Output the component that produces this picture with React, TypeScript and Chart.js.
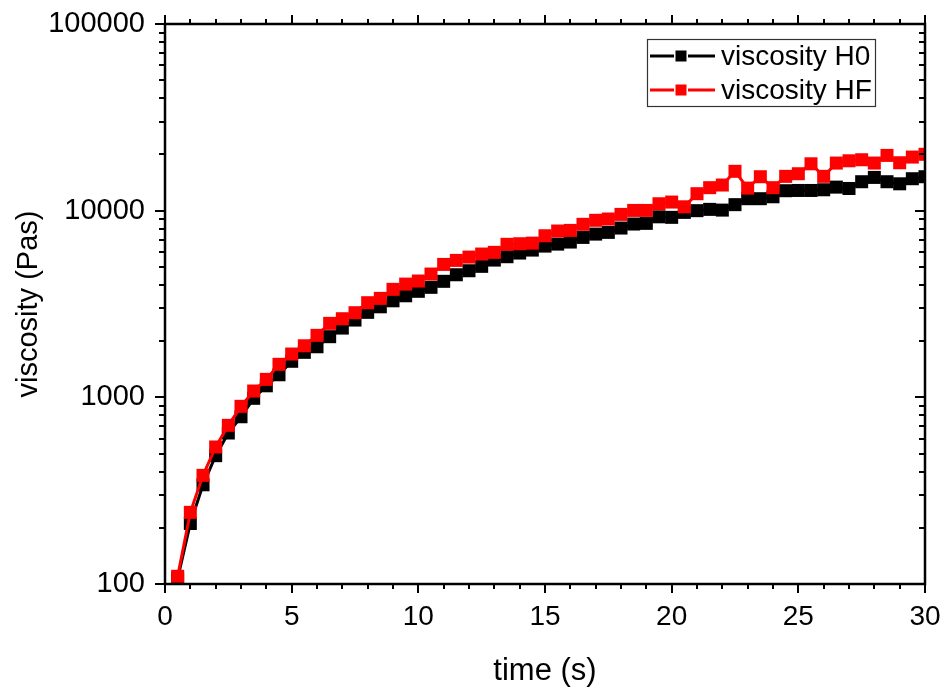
import React, { useEffect, useRef } from "react";
import { Chart, registerables } from "chart.js";

Chart.register(...registerables);

// time (s)
const times = [
  0.5, 1, 1.5, 2, 2.5, 3, 3.5, 4, 4.5, 5, 5.5, 6, 6.5, 7, 7.5, 8, 8.5, 9, 9.5, 10,
  10.5, 11, 11.5, 12, 12.5, 13, 13.5, 14, 14.5, 15, 15.5, 16, 16.5, 17, 17.5, 18, 18.5, 19, 19.5, 20,
  20.5, 21, 21.5, 22, 22.5, 23, 23.5, 24, 24.5, 25, 25.5, 26, 26.5, 27, 27.5, 28, 28.5, 29, 29.5, 30,
];

// viscosity H0 (Pas)
const viscosityH0 = [
  107, 211, 340, 487, 644, 787, 988, 1153, 1321, 1560, 1742, 1866, 2113, 2350, 2594, 2853, 3055, 3290, 3500, 3698,
  3884, 4183, 4536, 4766, 5032, 5437, 5666, 5928, 6150, 6460, 6620, 6790, 7190, 7490, 7650, 8070, 8480, 8550, 9270, 9210,
  9790, 10000, 10160, 10070, 10770, 11590, 11590, 11870, 12790, 12830, 12830, 12940, 13370, 13150, 14290, 15070, 14290, 13930, 14830, 15200,
];

// viscosity HF (Pas)
const viscosityHF = [
  110, 242, 382, 542, 708, 895, 1081, 1248, 1503, 1706, 1889, 2148, 2490, 2637, 2840, 3213, 3390, 3788, 4042, 4198,
  4576, 5153, 5415, 5640, 5857, 5980, 6603, 6650, 6700, 7339, 7780, 7840, 8450, 8880, 9020, 9550, 10030, 10030, 10890, 11120,
  10490, 12330, 13280, 13720, 16250, 13210, 15200, 13280, 15270, 15770, 17830, 15270, 17990, 18500, 18740, 17990, 19770, 18060, 19370, 20040,
];

const xTickValues = [0, 5, 10, 15, 20, 25, 30];
const yTickValues = [100, 1000, 10000, 100000];
const seriesLabels = ["viscosity H0", "viscosity HF"];
const seriesColors = ["#000000", "#ff0000"];

const FONT = "'Liberation Sans', Arial, Helvetica, sans-serif";

const originAxesPlugin = {
  id: "originAxes",
  afterDraw(chart: any) {
    const { ctx, chartArea: a, scales } = chart;
    const xs = scales.x;
    const ys = scales.y;
    const major = 9;
    const minor = 5;
    ctx.save();
    ctx.strokeStyle = "#000";
    ctx.lineCap = "butt";

    // x ticks (bottom outward, top outward)
    ctx.lineWidth = 2;
    ctx.beginPath();
    for (let v = xs.min; v <= xs.max + 1e-9; v += 1) {
      const px = Math.round(xs.getPixelForValue(v));
      const len = v % 5 === 0 ? major : minor;
      ctx.moveTo(px, a.bottom);
      ctx.lineTo(px, a.bottom + len);
      ctx.moveTo(px, a.top);
      ctx.lineTo(px, a.top - len);
    }
    // y ticks (left outward, right inward)
    for (let e = 2; e <= 5; e++) {
      for (let k = 1; k <= 9; k++) {
        const v = k * Math.pow(10, e);
        if (v > ys.max * 1.0001) break;
        const py = Math.round(ys.getPixelForValue(v));
        const len = k === 1 ? major + 1 : minor + 1;
        ctx.moveTo(a.left, py);
        ctx.lineTo(a.left - len, py);
        ctx.moveTo(a.right, py);
        ctx.lineTo(a.right - len, py);
      }
    }
    ctx.stroke();

    // frame
    ctx.lineWidth = 2.5;
    ctx.strokeRect(a.left, a.top, a.right - a.left, a.bottom - a.top);

    // legend
    const bw = 228;
    const bh = 67;
    const bx = a.right - 50 - bw;
    const by = a.top + 15;
    ctx.lineWidth = 1.2;
    ctx.strokeStyle = "#333";
    ctx.strokeRect(bx + 0.5, by + 0.5, bw, bh);
    ctx.font = `28px ${FONT}`;
    ctx.textBaseline = "middle";
    ctx.textAlign = "left";
    seriesLabels.forEach((label, i) => {
      const cy = by + 17 + i * 34;
      ctx.strokeStyle = seriesColors[i];
      ctx.lineWidth = 3;
      ctx.beginPath();
      ctx.moveTo(bx + 3, cy);
      ctx.lineTo(bx + 27, cy);
      ctx.moveTo(bx + 41, cy);
      ctx.lineTo(bx + 68, cy);
      ctx.stroke();
      ctx.fillStyle = seriesColors[i];
      ctx.fillRect(bx + 34 - 5.5, cy - 5.5, 11, 11);
      ctx.fillStyle = "#000";
      ctx.fillText(label, bx + 74, cy + 1);
    });
    ctx.restore();
  },
};

export default function App() {
  const canvasRef = useRef<HTMLCanvasElement | null>(null);

  useEffect(() => {
    const canvas = canvasRef.current;
    if (!canvas) return;
    const seriesData = [viscosityH0, viscosityHF];
    const chart = new Chart(canvas, {
      type: "line",
      data: {
        datasets: seriesData.map((vals, i) => ({
          label: seriesLabels[i],
          data: times.map((t, j) => ({ x: t, y: vals[j] })),
          borderColor: seriesColors[i],
          backgroundColor: seriesColors[i],
          borderWidth: 3,
          pointStyle: "rect",
          pointRadius: 9.2,
          pointBorderWidth: 0,
          pointBackgroundColor: seriesColors[i],
          tension: 0,
          order: i === 0 ? 1 : 0,
        })),
      },
      options: {
        animation: false,
        responsive: false,
        events: [],
        layout: { padding: { top: 24, right: 23, left: 0, bottom: 0 } },
        plugins: {
          legend: { display: false },
          tooltip: { enabled: false },
        },
        scales: {
          x: {
            type: "linear",
            min: 0,
            max: 30,
            afterFit: (s: any) => {
              s.height = 109;
              s.paddingLeft = 0;
              s.paddingRight = 0;
            },
            afterBuildTicks: (s: any) => {
              s.ticks = xTickValues.map((v) => ({ value: v }));
            },
            grid: { display: false, drawTicks: false },
            border: { display: false },
            ticks: {
              padding: 16,
              color: "#000",
              font: { family: FONT, size: 28 },
              maxRotation: 0,
              autoSkip: false,
              callback: (v: any) => String(v),
            },
            title: {
              display: true,
              text: "time (s)",
              color: "#000",
              font: { family: FONT, size: 31 },
              padding: { top: 0, bottom: 3 },
            },
          },
          y: {
            type: "logarithmic",
            min: 100,
            max: 100000,
            afterFit: (s: any) => {
              s.width = 165;
              s.paddingTop = 0;
              s.paddingBottom = 0;
            },
            afterBuildTicks: (s: any) => {
              s.ticks = yTickValues.map((v) => ({ value: v }));
            },
            grid: { display: false, drawTicks: false },
            border: { display: false },
            ticks: {
              padding: 20,
              color: "#000",
              font: { family: FONT, size: 29 },
              autoSkip: false,
              callback: (v: any) => String(v),
            },
            title: {
              display: true,
              text: "viscosity (Pas)",
              color: "#000",
              font: { family: FONT, size: 29 },
              padding: { top: 12, bottom: 0 },
            },
          },
        },
      },
      plugins: [originAxesPlugin],
    } as any);
    return () => chart.destroy();
  }, []);

  return (
    <div style={{ position: "absolute", left: 0, top: 0, width: 948, height: 693, background: "#fff" }}>
      <canvas ref={canvasRef} width={948} height={693} style={{ display: "block" }} />
    </div>
  );
}
